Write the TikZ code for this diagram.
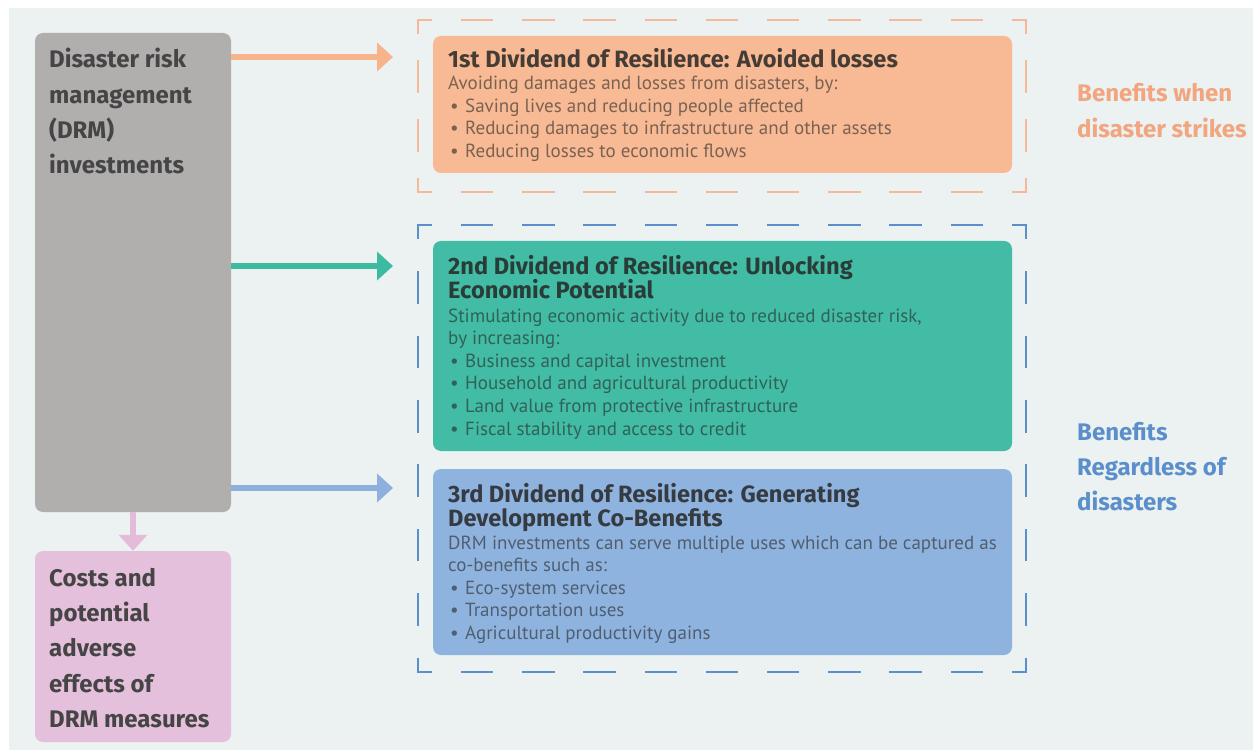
\documentclass[tikz,border=0pt]{standalone}
\usepackage{fontspec}
\setmainfont{PT Sans}
\newfontfamily\sidefont{Fira Sans}
\usetikzlibrary{arrows.meta}

\definecolor{bgcol}{HTML}{ECF1F1}
\definecolor{drmgray}{HTML}{B1AEAE}
\definecolor{costpink}{HTML}{E5C0DC}
\definecolor{divorange}{HTML}{F8BA94}
\definecolor{divgreen}{HTML}{42BCA5}
\definecolor{divblue}{HTML}{8FB3DF}
\definecolor{arrorange}{HTML}{F7B48C}
\definecolor{arrgreen}{HTML}{3DBBA0}
\definecolor{arrblue}{HTML}{8DB0DE}
\definecolor{arrpink}{HTML}{E4BCDA}
\definecolor{dashorange}{HTML}{F5B99A}
\definecolor{dashblue}{HTML}{5B8FCC}
\definecolor{txtorange}{HTML}{F2A57E}
\definecolor{txtblue}{HTML}{5B8FCC}
\definecolor{txtdark}{HTML}{454545}

\newcommand{\itm}{\makebox[17pt][l]{\hspace{2pt}\textbullet}}

% texts are placed at the baseline of their last line
\tikzset{
  panel/.style={rounded corners=8pt, inner sep=0pt, minimum width=#1},
  flow/.style={line width=5.5pt, -{Triangle[length=16pt,width=28pt]}},
  boxtext/.style={anchor=base west, inner sep=0pt, align=left, text=txtdark,
    font=\sidefont\bfseries\fontsize{24}{35.2}\selectfont},
  divtitle/.style={anchor=base west, inner sep=0pt, align=left, text=black!85,
    text opacity=0.85, font=\sidefont\bfseries\fontsize{23.6}{24.5}\selectfont},
  divbody/.style={anchor=base west, inner sep=0pt, align=left, text=black!85,
    text opacity=0.6, font=\fontsize{19}{22.6}\selectfont},
  groupline/.style={line width=2.5pt, line cap=rect, dash phase=17pt},
}

\begin{document}
\begin{tikzpicture}[x=1pt, y=-1pt]
    \useasboundingbox (0,0) rectangle (1253,751);
    \fill[bgcol] (9,8) rectangle (1253,750);

    % Left column
    \node[panel=196pt, fill=drmgray, minimum height=479pt] (drm) at (133,272.5) {};
    \node[panel=196pt, fill=costpink, minimum height=191pt] (cost) at (133,646.5) {};
    \node[boxtext] (drmtext) at (49,173.6) {Disaster risk\\management\\(DRM)\\investments};
    \node[boxtext] (costtext) at (49,727.3) {Costs and\\potential\\adverse\\effects of\\DRM measures};

    % Group frames
    \draw[groupline, dashorange, dash pattern=on 30pt off 31.2pt] (418,20) -- (1026,20);
    \draw[groupline, dashorange, dash pattern=on 30pt off 31.2pt] (418,192) -- (1026,192);
    \draw[groupline, dashorange, dash pattern=on 30pt off 28.67pt] (418,20) -- (418,192);
    \draw[groupline, dashorange, dash pattern=on 30pt off 28.67pt] (1026,20) -- (1026,192);
    \draw[groupline, dashblue, dash pattern=on 30pt off 31.2pt] (418,225) -- (1026,225);
    \draw[groupline, dashblue, dash pattern=on 30pt off 31.2pt] (418,672) -- (1026,672);
    \draw[groupline, dashblue, dash pattern=on 30pt off 34.43pt] (418,225) -- (418,672);
    \draw[groupline, dashblue, dash pattern=on 30pt off 34.43pt] (1026,225) -- (1026,672);

    % Dividend boxes
    \node[panel=579pt, fill=divorange, minimum height=137pt] (div1) at (722.5,104.5) {};
    \node[panel=579pt, fill=divgreen, minimum height=210pt] (div2) at (722.5,346) {};
    \node[panel=579pt, fill=divblue, minimum height=186pt] (div3) at (722.5,562) {};

    \node[divtitle] (div1title) at (448,68) {1st Dividend of Resilience: Avoided losses};
    \node[divbody] (div1body) at (448,157.3) {Avoiding damages and losses from disasters, by:\\
        \itm Saving lives and reducing people affected\\
        \itm Reducing damages to infrastructure and other assets\\
        \itm Reducing losses to economic flows};

    \node[divtitle] (div2title) at (448,299) {2nd Dividend of Resilience: Unlocking\\Economic Potential};
    \node[divbody] (div2body) at (448,435) {Stimulating economic activity due to reduced disaster risk,\\
        by increasing:\\
        \itm Business and capital investment\\
        \itm Household and agricultural productivity\\
        \itm Land value from protective infrastructure\\
        \itm Fiscal stability and access to credit};

    \node[divtitle] (div3title) at (448,526.5) {3rd Dividend of Resilience: Generating\\Development Co-Benefits};
    \node[divbody] (div3body) at (448,639.4) {DRM investments can serve multiple uses which can be captured as\\
        co-benefits such as:\\
        \itm Eco-system services\\
        \itm Transportation uses\\
        \itm Agricultural productivity gains};

    % Side notes
    \node[boxtext, text=txtorange] (when) at (1077,137.2) {Benefits when\\disaster strikes};
    \node[boxtext, text=txtblue] (regardless) at (1077,510.4) {Benefits\\Regardless of\\disasters};

    % Arrows
    \coordinate (end1) at (393,57);
    \coordinate (end2) at (393,266);
    \coordinate (end3) at (393,488);
    \draw[flow, arrorange] (drm.east |- end1) -- (end1);
    \draw[flow, arrgreen] (drm.east |- end2) -- (end2);
    \draw[flow, arrblue] (drm.east |- end3) -- (end3);
    \draw[flow, arrpink] (drm.south) -- (cost.north);
\end{tikzpicture}
\end{document}
